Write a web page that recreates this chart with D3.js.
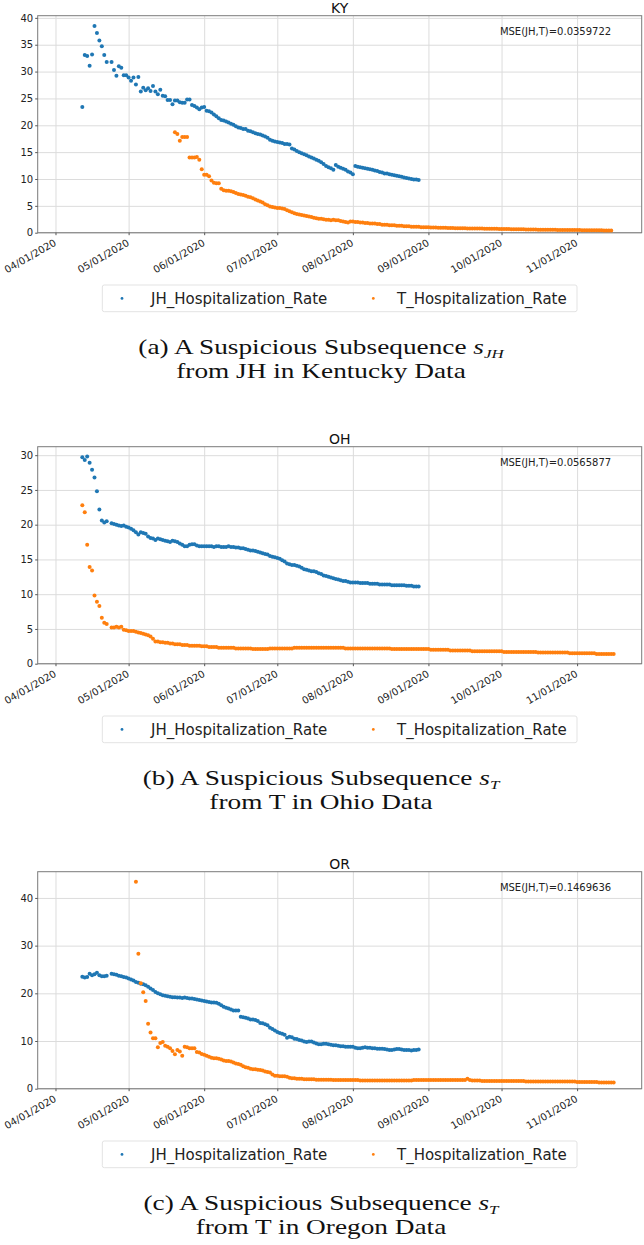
<!DOCTYPE html>
<html>
<head>
<meta charset="utf-8">
<script src="https://cdn.jsdelivr.net/npm/d3@7"></script>
<style>
  body { margin: 0; background: #fff; }
  .caption text { font-family: "Liberation Serif", serif; white-space: pre; }
</style>
</head>
<body>
<div class="chartContainer"></div>
<script>
// tick labels on the x axis (first of each month)
var monthTicks = ["2020-04-01", "2020-05-01", "2020-06-01", "2020-07-01",
                  "2020-08-01", "2020-09-01", "2020-10-01", "2020-11-01"];
var seriesNames = ["JH_Hospitalization_Rate", "T_Hospitalization_Rate"];
var seriesColors = ["#1f77b4", "#ff7f0e"];

// ---- Kentucky (daily values, null = missing day) ----
var kyJHStart = "2020-04-12";
var kyJH = [23.4, 33.1, 32.9, 31.1, 33.2, 38.5, 37.2, 35.8, 34.7, 33.1, 31.8, null, 31.8, 30.3, 29.2,
  31.0, 30.7, 29.3, 29.3, 28.9, 28.3, 28.9, 27.6, 29.0, 26.3, 27.0, 26.5, 26.9, 26.4, 27.3,
  26.3, 25.8, 26.6, 25.5, 25.4, 24.7, 24.7, 23.9, 24.6, 24.6, 24.3, 24.2, 24.2, 24.8, 24.8,
  23.8, 23.6, 23.3, 23.0, 23.3, 23.4,
  22.7, 22.6, 22.4, 22.0, 21.7, 21.3, 21.0, 20.9, 20.7, 20.5, 20.3, 20.1, 19.8, 19.6, 19.5,
  19.3, 19.3, 19.0, 18.9, 18.7, 18.5, 18.4, 18.3, 18.1, 17.9, 17.7, 17.3, 17.1, 17.0, 16.9,
  16.8, 16.7, 16.5, 16.5, 16.4, 15.7, 15.5, 15.2, 15.0, 14.8, 14.6, 14.4, 14.2, 14.0, 13.8,
  13.6, 13.4, 13.1, 12.8, 12.4, 12.2, 12.0, 11.7, 12.6, 12.3, 12.1, 11.9, 11.7, 11.4, 11.2,
  10.9, 12.4, 12.3, 12.2, 12.1, 12.0, 11.9, 11.8, 11.7, 11.6, 11.5, 11.3, 11.2, 11.0, 11.0,
  10.9, 10.8, 10.7, 10.6, 10.5, 10.4, 10.3, 10.2, 10.1, 10.0, 9.9, 9.9, 9.8];
var kyTStart = "2020-05-20";
var kyT = [18.7, 18.4, 17.1, 17.8, 17.8, 17.8, 14.0, 14.0, 14.0, 14.1, 13.6, 11.8, 10.8, 10.8, 10.5,
  9.7, 9.3, 9.2, 9.2, 8.2, 7.9, 7.8, 7.8, 7.7, 7.6, 7.4, 7.2, 7.1, 7.0, 6.9,
  6.7, 6.6, 6.4, 6.2, 6.0, 5.8, 5.6, 5.3, 5.1, 4.9, 4.8, 4.7, 4.6, 4.6, 4.5,
  4.4, 4.2, 4.0, 3.8, 3.6, 3.5, 3.4, 3.3, 3.2, 3.1, 3.0, 2.9, 2.8, 2.7, 2.6,
  2.6, 2.5, 2.4, 2.4, 2.3, 2.4, 2.3, 2.3, 2.2, 2.1, 2.0, 1.9, 2.1, 2.1, 2.0,
  2.0, 1.9, 1.9, 1.8, 1.8, 1.7, 1.7, 1.7, 1.6, 1.6, 1.5, 1.5, 1.5, 1.4, 1.4,
  1.4, 1.3, 1.3, 1.3, 1.2, 1.2, 1.2, 1.1, 1.1, 1.1, 1.1, 1.0,
  1.0, 1.0, 1.0, 0.97, 0.95, 0.95, 0.93, 0.92, 0.9, 0.9,
  0.88, 0.87, 0.86, 0.85, 0.84, 0.83, 0.82, 0.81, 0.8, 0.8,
  0.79, 0.78, 0.77, 0.77, 0.76, 0.75, 0.75, 0.74, 0.73, 0.73,
  0.72, 0.71, 0.7, 0.69, 0.68, 0.67, 0.66, 0.65, 0.64, 0.63,
  0.62, 0.62, 0.61, 0.6, 0.6, 0.59, 0.58, 0.57, 0.57, 0.56,
  0.55, 0.55, 0.54, 0.53, 0.53, 0.52, 0.52, 0.51, 0.5, 0.5,
  0.5, 0.49, 0.49, 0.48, 0.48, 0.47, 0.47, 0.46, 0.46, 0.45,
  0.45, 0.45, 0.44, 0.44, 0.43, 0.43, 0.42, 0.42];
var kyYTicks = [0, 5, 10, 15, 20, 25, 30, 35, 40];

// ---- Ohio ----
var ohJHStart = "2020-04-12";
var ohJH = [29.7, 29.3, 29.8, 28.9, 27.9, 26.8, 24.8, 22.2, 20.6, 20.3, 20.5, null, 20.2, 20.1, 20.0,
  19.9, 19.8, 19.9, 19.7, 19.6, 19.4, 19.2, 18.9, 18.6, 18.9, 18.8, 18.7, 18.3, 18.1, 18.0,
  17.8, 18.0, 17.9, 17.8, 17.7, 17.6, 17.5, 17.7, 17.6, 17.5, 17.3, 17.1, 16.9, 16.9, 17.1,
  17.2, 17.2, 17.0, 16.9, 16.9, 16.9,
  16.9, 16.9, 16.9, 16.8, 16.9, 16.9, 16.8, 16.8, 16.8, 16.9, 16.8, 16.8, 16.7, 16.7,
  16.6, 16.6, 16.5, 16.4, 16.3, 16.3, 16.2, 16.1, 16.0, 15.9, 15.8, 15.7, 15.5, 15.4, 15.3,
  15.2, 15.1, 14.9, 14.7, 14.4, 14.3, 14.2, 14.2, 14.1, 14.0, 13.8, 13.6, 13.5, 13.4, 13.3,
  13.3, 13.2, 13.0, 12.9, 12.7, 12.6, 12.5, 12.4, 12.3, 12.2, 12.1, 12.0, 11.9, 11.9, 11.8,
  11.7, 11.7, 11.7, 11.7, 11.6, 11.6, 11.6, 11.6, 11.5, 11.5, 11.5, 11.5, 11.4, 11.4, 11.4,
  11.4, 11.4, 11.3, 11.3, 11.3, 11.3, 11.3, 11.3, 11.2, 11.2, 11.2, 11.1, 11.1, 11.1];
var ohTStart = "2020-04-12";
var ohT = [22.8, 21.8, 17.1, 13.9, 13.4, 9.8, 8.9, 8.3, 6.6, 5.9, 5.7, null, 5.2, 5.2, 5.3,
  5.2, 5.3, 4.9, 4.8, 4.7, 4.7, 4.7, 4.6, 4.5, 4.4, 4.3, 4.2, 4.1, 3.9, 3.6,
  3.2, 3.2, 3.1, 3.1, 3.0, 3.0, 2.9, 2.9, 2.8, 2.8, 2.8, 2.7, 2.7, 2.7, 2.6,
  2.6, 2.6, 2.6, 2.6, 2.5, 2.5,
  2.5, 2.4, 2.4, 2.4, 2.4, 2.3, 2.3, 2.3, 2.3, 2.3, 2.3, 2.3, 2.2, 2.2, 2.2,
  2.2, 2.2, 2.2, 2.2, 2.1, 2.1, 2.1, 2.1, 2.1, 2.1, 2.1, 2.2, 2.2, 2.2, 2.2,
  2.2, 2.2, 2.2, 2.2, 2.2, 2.2, 2.3, 2.3, 2.3, 2.3, 2.3, 2.3, 2.3, 2.3, 2.3,
  2.3, 2.3, 2.3, 2.3, 2.3, 2.3, 2.3, 2.3, 2.3, 2.3, 2.3, 2.3, 2.2, 2.2, 2.2,
  2.2, 2.2, 2.2, 2.2, 2.2, 2.2, 2.2, 2.2, 2.2, 2.2, 2.2, 2.2, 2.2, 2.2, 2.2,
  2.2, 2.1, 2.1, 2.1, 2.1, 2.1, 2.1, 2.1, 2.1, 2.1, 2.1, 2.1, 2.1, 2.1, 2.1,
  2.1, 2.1, 2.0, 2.0, 2.0, 2.0, 2.0, 2.0, 2.0, 2.0, 1.9, 1.9, 1.9, 1.9, 1.9,
  1.9, 1.9, 1.9, 1.9, 1.8, 1.8, 1.8, 1.8, 1.8, 1.8, 1.8, 1.8, 1.8, 1.8, 1.8,
  1.8, 1.8, 1.7, 1.7, 1.7, 1.7, 1.7, 1.7, 1.7, 1.7, 1.7, 1.7, 1.7, 1.7, 1.7,
  1.7, 1.6, 1.6, 1.6, 1.6, 1.6, 1.6, 1.6, 1.6, 1.6, 1.6, 1.6, 1.6, 1.6, 1.5,
  1.5, 1.5, 1.5, 1.5, 1.5, 1.5, 1.5, 1.5, 1.5, 1.5, 1.4, 1.4, 1.4, 1.4, 1.4,
  1.4, 1.4, 1.4];
var ohYTicks = [0, 5, 10, 15, 20, 25, 30];

// ---- Oregon ----
var orJHStart = "2020-04-12";
var orJH = [23.5, 23.3, 23.4, 24.1, 23.8, 24.0, 24.3, 23.8, 23.6, 23.6, 23.7, null, 24.1, 24.0, 23.9,
  23.7, 23.6, 23.4, 23.3, 23.1, 22.9, 22.7, 22.4, 22.2, 22.0, 21.9, 21.7, 21.4, 21.0, 20.7,
  20.3, 20.0, 19.8, 19.6, 19.5, 19.4, 19.3, 19.2, 19.2, 19.1, 19.1, 19.0, 19.1, 19.0, 18.9,
  18.9, 18.8, 18.7, 18.6, 18.5, 18.4,
  18.3, 18.2, 18.1, 18.1, 18.0, 17.8, 17.5, 17.2, 17.0, 16.8, 16.6, 16.4, 16.4, 16.4, 15.1,
  15.0, 14.9, 14.7, 14.5, 14.5, 14.4, 14.2, 13.8, 13.7, 13.5, 13.3, 12.8, 12.5, 12.2, 11.9,
  11.7, 11.5, 11.3, 10.7, 10.9, 10.8, 10.5, 10.4, 10.2, 10.1, 9.9, 9.8, 9.9, 9.9, 9.7,
  9.5, 9.3, 9.3, 9.4, 9.4, 9.3, 9.2, 9.1, 9.1, 9.0, 8.9, 8.9, 8.8, 8.8, 8.8,
  8.8, 8.6, 8.5, 8.5, 8.6, 8.7, 8.6, 8.6, 8.5, 8.5, 8.4, 8.4, 8.4, 8.3, 8.2,
  8.1, 8.1, 8.2, 8.3, 8.3, 8.2, 8.1, 8.1, 8.1, 8.0, 8.1, 8.1, 8.2];
var orTStart = "2020-05-04";
var orT = [43.4, 28.3, 22.1, 20.2, 18.4, 13.6, 11.8, 10.6, 10.6, 8.7, 9.6, 9.8, 9.0, 8.8, 8.5,
  7.9, 7.2, 8.1, 7.8, 6.9, 8.8, 8.7, 8.5, 8.5, 8.5, 7.7, 7.6, 7.3, 7.1,
  6.9, 6.7, 6.5, 6.4, 6.4, 6.3, 6.1, 5.9, 5.8, 5.8, 5.7, 5.5, 5.3, 5.2, 5.0,
  4.7, 4.5, 4.4, 4.2, 4.1, 4.1, 4.0, 3.9, 3.8, 3.6, 3.5, 3.4, 3.0, 2.7, 2.7,
  2.6, 2.6, 2.6, 2.5, 2.3, 2.2, 2.2, 2.1, 2.1, 2.1, 2.0, 2.0, 2.0, 2.0, 2.0,
  1.9, 1.9, 1.9, 1.9, 1.9, 1.9, 1.9, 1.8, 1.8, 1.8, 1.8, 1.8, 1.8, 1.8, 1.8,
  1.8, 1.8, 1.8, 1.7, 1.7, 1.7, 1.7, 1.7, 1.7, 1.7, 1.7, 1.7, 1.7, 1.7, 1.7,
  1.7, 1.7, 1.7, 1.7, 1.7, 1.7, 1.7, 1.7, 1.7, 1.7, 1.8, 1.8, 1.8, 1.8, 1.8,
  1.8, 1.8, 1.8, 1.8, 1.8, 1.8, 1.8, 1.8, 1.8, 1.8, 1.8, 1.8, 1.8, 1.8, 1.8,
  1.8, 1.8, 2.1, 1.8, 1.7, 1.7, 1.7, 1.7, 1.6, 1.6, 1.6, 1.6, 1.6, 1.6, 1.6,
  1.6, 1.6, 1.6, 1.6, 1.6, 1.6, 1.6, 1.6, 1.6, 1.6, 1.6, 1.5, 1.5, 1.5, 1.5,
  1.5, 1.5, 1.5, 1.5, 1.5, 1.5, 1.5, 1.5, 1.5, 1.5, 1.5, 1.5, 1.5, 1.5, 1.5,
  1.5, 1.5, 1.4, 1.4, 1.4, 1.4, 1.4, 1.4, 1.4, 1.4, 1.4, 1.3, 1.3, 1.3, 1.3,
  1.3, 1.3, 1.3];
var orYTicks = [0, 10, 20, 30, 40];

var panels = [
    {title: "KY", mse: "MSE(JH,T)=0.0359722", jhStart: kyJHStart, jh: kyJH, tStart: kyTStart, t: kyT,
     yTicks: kyYTicks, top: 15.7, capLead: "(a) A Suspicious Subsequence ", capSub: "JH",
     capLine2: "from JH in Kentucky Data"},
    {title: "OH", mse: "MSE(JH,T)=0.0565877", jhStart: ohJHStart, jh: ohJH, tStart: ohTStart, t: ohT,
     yTicks: ohYTicks, top: 446.7, capLead: "(b) A Suspicious Subsequence ", capSub: "T",
     capLine2: "from T in Ohio Data"},
    {title: "OR", mse: "MSE(JH,T)=0.1469636", jhStart: orJHStart, jh: orJH, tStart: orTStart, t: orT,
     yTicks: orYTicks, top: 871.7, capLead: "(c) A Suspicious Subsequence ", capSub: "T",
     capLine2: "from T in Oregon Data"}
];

var w = 644,
    h = 1245;
var left = 37.7,
    right = 641.7,
    plotH = 217;

var parseDay = d3.utcParse("%Y-%m-%d");
var fmtTick = d3.utcFormat("%m/%d/%Y");
// x range runs a little before Apr 1 and past the last point
var xDomain = [new Date(Date.UTC(2020, 2, 24, 16, 48)), new Date(Date.UTC(2020, 10, 27, 12))];

var svg = d3.select(".chartContainer")
    .append("svg")
    .attr("width", w)
    .attr("height", h)
    .attr("font-family", "DejaVu Sans");

function toPoints(start, values) {
    var s = parseDay(start);
    return values.map(function (v, i) {
        return {date: d3.utcDay.offset(s, i), value: v};
    }).filter(function (d) { return d.value !== null; });
}

function drawPanel(p) {
    var top = p.top,
        bottom = top + plotH;

    var x = d3.scaleUtc().domain(xDomain).range([left, right]);

    var jh = toPoints(p.jhStart, p.jh),
        t = toPoints(p.tStart, p.t);
    var all = jh.concat(t);
    var vMax = d3.max(all, function (d) { return d.value; }),
        vMin = d3.min(all, function (d) { return d.value; });
    var y = d3.scaleLinear()
        .domain([0, vMax + 0.05 * (vMax - vMin)])
        .range([bottom, top]);

    var tickDates = monthTicks.map(parseDay);
    var g = svg.append("g");

    // grid
    g.append("g")
        .attr("transform", "translate(0," + bottom + ")")
        .call(d3.axisBottom(x).tickValues(tickDates).tickSize(-plotH).tickFormat(""))
        .call(function (s) { s.select(".domain").remove(); })
        .selectAll("line").attr("stroke", "#dcdcdc");
    g.append("g")
        .attr("transform", "translate(" + left + ",0)")
        .call(d3.axisLeft(y).tickValues(p.yTicks).tickSize(-(right - left)).tickFormat(""))
        .call(function (s) { s.select(".domain").remove(); })
        .selectAll("line").attr("stroke", "#dcdcdc");

    // frame
    g.append("rect")
        .attr("x", left)
        .attr("y", top)
        .attr("width", right - left)
        .attr("height", plotH)
        .attr("fill", "none")
        .attr("stroke", "#7a7a7a");

    // axes
    var yAxis = g.append("g")
        .attr("transform", "translate(" + left + ",0)")
        .call(d3.axisLeft(y).tickValues(p.yTicks).tickSize(2.5).tickPadding(2));
    yAxis.select(".domain").remove();
    yAxis.selectAll("line").attr("stroke", "#555");
    yAxis.selectAll("text").attr("font-size", 10).attr("font-family", "DejaVu Sans").attr("fill", "#222");

    var xAxis = g.append("g")
        .attr("transform", "translate(0," + bottom + ")")
        .call(d3.axisBottom(x).tickValues(tickDates).tickSize(2.5).tickFormat(fmtTick));
    xAxis.select(".domain").remove();
    xAxis.selectAll("line").attr("stroke", "#555");
    xAxis.selectAll("text")
        .attr("y", 0)
        .attr("dy", 0)
        .attr("font-size", 10)
        .attr("font-family", "DejaVu Sans")
        .attr("fill", "#222")
        .attr("text-anchor", "end")
        .attr("transform", "translate(1,12) rotate(-30)");

    // points, T drawn over JH
    [jh, t].forEach(function (pts, k) {
        g.append("g")
            .selectAll("circle")
            .data(pts)
            .enter()
            .append("circle")
            .attr("cx", function (d) { return x(d.date); })
            .attr("cy", function (d) { return y(d.value); })
            .attr("r", 2)
            .attr("fill", seriesColors[k]);
    });

    // title and MSE note
    g.append("text")
        .attr("x", (left + right) / 2)
        .attr("y", top - 3)
        .attr("text-anchor", "middle")
        .attr("font-size", 14)
        .attr("fill", "#111")
        .text(p.title);
    g.append("text")
        .attr("x", right - 30.5)
        .attr("y", top + 19)
        .attr("text-anchor", "end")
        .attr("font-size", 10)
        .attr("fill", "#222")
        .text(p.mse);

    // legend
    var lg = g.append("g").attr("transform", "translate(0," + (bottom + 52.3) + ")");
    lg.append("rect")
        .attr("x", 102.3)
        .attr("width", 474.7)
        .attr("height", 26.7)
        .attr("rx", 2)
        .attr("fill", "#fff")
        .attr("stroke", "#e3e3e3");
    var itemX = [[122, 151], [373.3, 397]];
    seriesNames.forEach(function (name, k) {
        lg.append("circle")
            .attr("cx", itemX[k][0])
            .attr("cy", 13.4)
            .attr("r", 1.4)
            .attr("fill", seriesColors[k]);
        lg.append("text")
            .attr("x", itemX[k][1])
            .attr("y", 18.8)
            .attr("font-size", 15)
            .attr("fill", "#222")
            .text(name);
    });

    // caption below the panel
    var cap = g.append("g")
        .attr("class", "caption")
        .attr("transform", "translate(321," + (bottom + 121) + ") scale(1.3,1)");
    var l1 = cap.append("text")
        .attr("text-anchor", "middle")
        .attr("font-size", 21)
        .attr("fill", "#111");
    l1.append("tspan").text(p.capLead);
    l1.append("tspan").attr("font-style", "italic").text("s");
    l1.append("tspan")
        .attr("font-style", "italic")
        .attr("font-size", 13)
        .attr("dy", 4)
        .text(p.capSub);
    cap.append("text")
        .attr("y", 24)
        .attr("text-anchor", "middle")
        .attr("font-size", 21)
        .attr("fill", "#111")
        .text(p.capLine2);
}

panels.forEach(drawPanel);
</script>
</body>
</html>
